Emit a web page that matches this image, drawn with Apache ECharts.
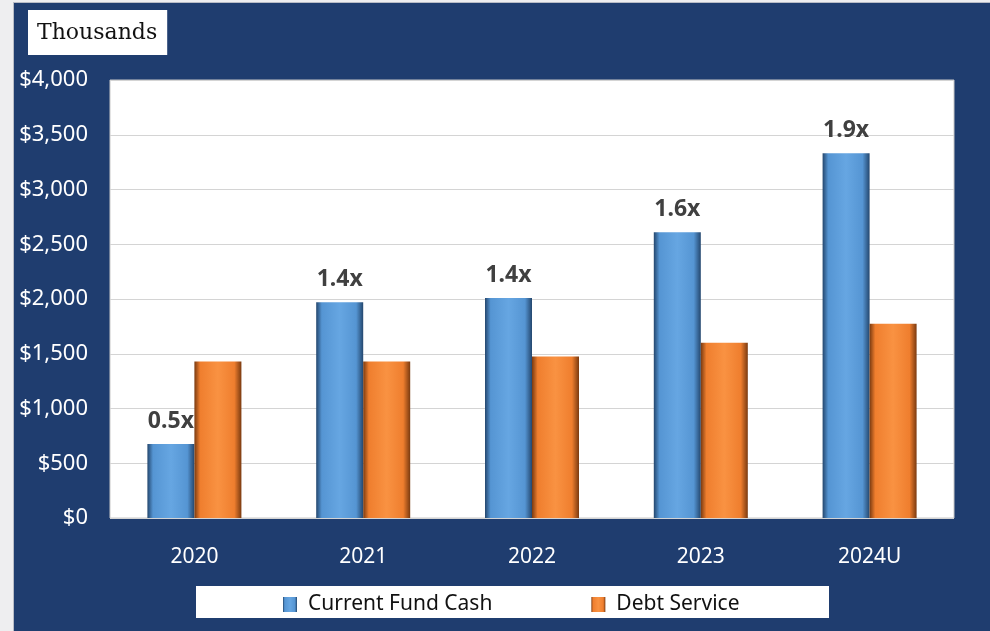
<!DOCTYPE html>
<html><head><meta charset="utf-8">
<script src="https://cdn.jsdelivr.net/npm/echarts@6/dist/echarts.min.js"></script>
<style>
html,body{margin:0;padding:0;width:990px;height:631px;overflow:hidden;background:#eeeef0;}
#edge{position:absolute;left:13px;top:2px;width:977px;height:629px;background:#b8bcc6;}
#c{position:absolute;left:14px;top:3px;width:976px;height:628px;}
</style></head>
<body><div id="edge"></div><div id="c"></div>
<script>
const categories = ['2020', '2021', '2022', '2023', '2024U'];
const currentFundCash = [675, 1970, 2010, 2610, 3330];
const debtService = [1430, 1430, 1475, 1600, 1775];
const coverageLabels = ['0.5x', '1.4x', '1.4x', '1.6x', '1.9x'];
const yTicks = [0, 500, 1000, 1500, 2000, 2500, 3000, 3500, 4000];

function bevel(dark, mid, light) {
  return new echarts.graphic.LinearGradient(0, 0, 1, 0, [
    {offset: 0, color: dark},
    {offset: 0.12, color: mid},
    {offset: 0.5, color: light},
    {offset: 0.85, color: mid},
    {offset: 1, color: dark}
  ]);
}
const blueFill = bevel('#24476e', '#5595d3', '#66a6e2');
const orangeFill = bevel('#7a3a10', '#ef7e2e', '#f99242');

const chart = echarts.init(document.getElementById('c'));
chart.setOption({
  backgroundColor: '#1f3d6f',
  animation: false,
  title: {
    text: 'Thousands',
    left: 14, top: 7,
    backgroundColor: '#ffffff',
    padding: [10, 10, 9, 9],
    textStyle: {fontFamily: 'DejaVu Serif', fontWeight: 'normal', fontSize: 22, lineHeight: 26, color: '#111'}
  },
  graphic: [{
    type: 'rect', left: 182, top: 583, z: 0,
    shape: {width: 633, height: 32},
    style: {fill: '#ffffff'}
  }],
  legend: {
    left: 264, top: 586, z: 5,
    itemWidth: 14, itemHeight: 15, itemGap: 99,
    icon: 'rect',
    textStyle: {fontFamily: 'Noto Sans', fontSize: 21, color: '#111', padding: [0, 0, 0, 6]},
    data: [
      {name: 'Current Fund Cash', itemStyle: {color: blueFill}},
      {name: 'Debt Service', itemStyle: {color: orangeFill}}
    ]
  },
  grid: {left: 96, top: 77, right: 36, bottom: 113, show: true, backgroundColor: '#ffffff', borderColor: '#c8c8c8', borderWidth: 1},
  xAxis: {
    type: 'category', data: categories,
    axisLine: {show: false}, axisTick: {show: false},
    axisLabel: {color: '#ffffff', fontFamily: 'Noto Sans', fontSize: 21, margin: 29}
  },
  yAxis: {
    type: 'value', min: yTicks[0], max: yTicks[yTicks.length - 1], interval: 500,
    axisLine: {show: false}, axisTick: {show: false},
    splitLine: {lineStyle: {color: '#d4d4d4', width: 1}},
    axisLabel: {color: '#ffffff', fontFamily: 'Noto Sans', fontSize: 22, margin: 22,
      formatter: v => '$' + v.toLocaleString('en-US')}
  },
  series: [
    {
      name: 'Current Fund Cash', type: 'bar', data: currentFundCash,
      barWidth: 47, barGap: '0%',
      itemStyle: {color: blueFill},
      label: {show: true, position: 'top', distance: 11,
        formatter: p => coverageLabels[p.dataIndex],
        fontFamily: 'Noto Sans', fontWeight: 'bold', fontSize: 23, color: '#404040'}
    },
    {
      name: 'Debt Service', type: 'bar', data: debtService,
      barWidth: 47,
      itemStyle: {color: orangeFill}
    }
  ]
});
</script></body></html>
